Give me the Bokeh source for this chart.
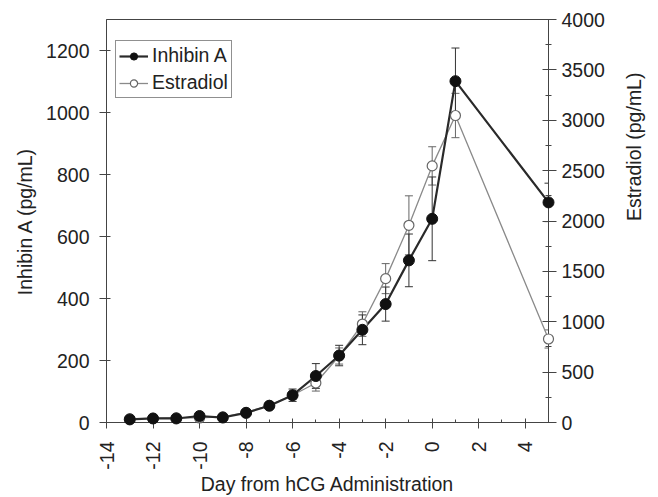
import math
from bokeh.plotting import figure
from bokeh.models import (Range1d, LinearAxis, FixedTicker, Whisker, TeeHead,
                          ColumnDataSource, Legend, LegendItem)
from bokeh.embed import file_html
from bokeh.resources import INLINE

# ---- data ----
days = [-13, -12, -11, -10, -9, -8, -7, -6, -5, -4, -3, -2, -1, 0, 1, 5]
inhibin = [10, 13, 13, 21, 16, 31, 54, 88, 150, 216, 299, 382, 523, 657, 1101, 710]
inhibin_err = [5, 5, 5, 6, 5, 6, 8, 20, 40, 33, 48, 55, 85, 135, 107, 62]
estradiol = [35, 40, 45, 45, 55, 100, 170, 270, 392, 660, 977, 1428, 1957, 2547, 3047, 829]
estradiol_err = [15, 15, 15, 15, 15, 20, 30, 40, 80, 80, 122, 149, 293, 190, 220, 90]

x_ticks = [-14, -12, -10, -8, -6, -4, -2, 0, 2, 4]
x_tick_labels = ["-14", "-12", "-10", "-8", "-6", "-4", "-2", "0", "2", "4"]
x_minor = list(range(-14, 6))
left_ticks = [0, 200, 400, 600, 800, 1000, 1200]
right_ticks = [0, 500, 1000, 1500, 2000, 2500, 3000, 3500, 4000]
right_minor = [250, 750, 1250, 1750, 2250, 2750, 3250, 3750]

FONT = "Liberation Sans"
FS = "19.5px"
TXT = "#222222"
AX = "#444444"

p = figure(width=658, height=497, output_backend="svg", toolbar_location=None,
           x_range=Range1d(-14, 5), y_range=Range1d(0, 1300),
           min_border_left=106, min_border_right=110, min_border_top=19,
           min_border_bottom=73)
p.extra_y_ranges = {"e": Range1d(0, 4000)}
p.grid.visible = False
p.outline_line_color = AX
p.outline_line_width = 1
p.background_fill_color = "white"
p.border_fill_color = "white"

# x axis
xa = p.xaxis[0]
xa.ticker = FixedTicker(ticks=x_ticks, minor_ticks=x_minor)
xa.major_label_overrides = {t: l for t, l in zip(x_ticks, x_tick_labels)}
xa.major_label_orientation = math.pi / 2
xa.axis_label = "Day from hCG Administration"
xa.major_tick_in = 4
xa.major_tick_out = 6
xa.minor_tick_in = 3
xa.minor_tick_out = 0
xa.major_label_standoff = 13
xa.axis_label_standoff = 0

# left axis
ya = p.yaxis[0]
ya.ticker = FixedTicker(ticks=left_ticks)
ya.axis_label = "Inhibin A (pg/mL)"
ya.major_tick_in = 4
ya.major_tick_out = 7
ya.minor_tick_line_color = None
ya.major_label_standoff = 10
ya.axis_label_standoff = 7

# right axis
ra = LinearAxis(y_range_name="e", axis_label="Estradiol (pg/mL)",
                ticker=FixedTicker(ticks=right_ticks, minor_ticks=right_minor))
ra.major_tick_in = 6
ra.major_tick_out = 8
ra.minor_tick_in = 3
ra.minor_tick_out = 3
ra.major_label_standoff = 5
ra.axis_label_standoff = 26
if hasattr(ra, "axis_label_orientation"):
    ra.axis_label_orientation = math.pi / 2
p.add_layout(ra, "right")

for ax in [xa, ya, ra]:
    ax.axis_line_color = AX
    ax.major_tick_line_color = AX
    ax.minor_tick_line_color = AX if ax is not ya else None
    ax.major_label_text_font = FONT
    ax.major_label_text_font_size = FS
    ax.major_label_text_color = TXT
    ax.axis_label_text_font = FONT
    ax.axis_label_text_font_size = FS
    ax.axis_label_text_font_style = "normal"
    ax.axis_label_text_color = TXT

src_i = ColumnDataSource(dict(x=days, y=inhibin,
                              lo=[v - e for v, e in zip(inhibin, inhibin_err)],
                              hi=[v + e for v, e in zip(inhibin, inhibin_err)]))
src_e = ColumnDataSource(dict(x=days, y=estradiol,
                              lo=[v - e for v, e in zip(estradiol, estradiol_err)],
                              hi=[v + e for v, e in zip(estradiol, estradiol_err)]))

# estradiol
we = Whisker(source=src_e, base="x", upper="hi", lower="lo", y_range_name="e",
             line_color="#666666", line_width=1,
             upper_head=TeeHead(size=8, line_color="#666666", line_width=1),
             lower_head=TeeHead(size=8, line_color="#666666", line_width=1))
p.add_layout(we)
le = p.line("x", "y", source=src_e, y_range_name="e", line_color="#8a8a8a", line_width=1.3)

# inhibin
wi = Whisker(source=src_i, base="x", upper="hi", lower="lo",
             line_color="#333333", line_width=1,
             upper_head=TeeHead(size=8, line_color="#333333", line_width=1),
             lower_head=TeeHead(size=8, line_color="#333333", line_width=1))
p.add_layout(wi)
li = p.line("x", "y", source=src_i, line_color="#2a2a2a", line_width=2.2)
se = p.scatter("x", "y", source=src_e, y_range_name="e", size=10, fill_color="white",
               line_color="#666666", line_width=1.2, level="overlay")
si = p.scatter("x", "y", source=src_i, size=11, fill_color="#111111", line_color="#111111",
               level="overlay")

legend = Legend(items=[LegendItem(label="Inhibin A", renderers=[li, si]),
                       LegendItem(label="Estradiol", renderers=[le, se])],
                location=(9, 324))
legend.border_line_color = "#222222"
legend.border_line_width = 1
legend.background_fill_alpha = 1
legend.label_text_font = FONT
legend.label_text_font_size = FS
legend.label_text_color = TXT
legend.glyph_width = 29
legend.glyph_height = 18
legend.label_standoff = 4
legend.padding = 3
legend.spacing = 4
legend.margin = 0
p.add_layout(legend)

open("out.html", "w").write(file_html(p, INLINE))
